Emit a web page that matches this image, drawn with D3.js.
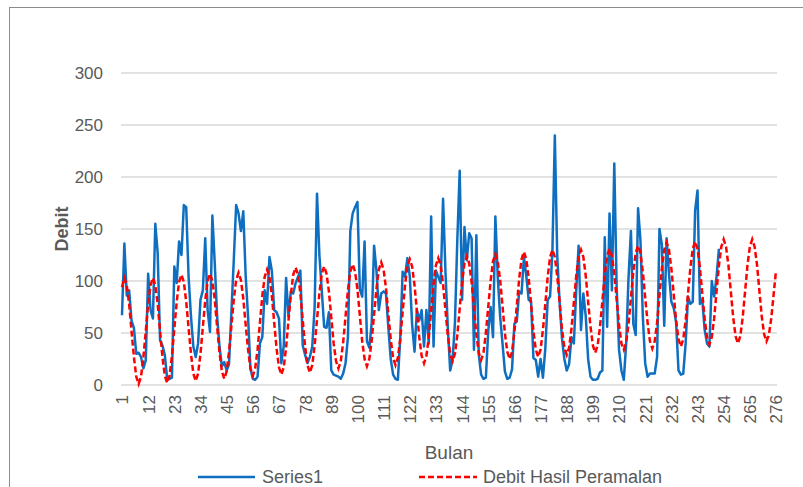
<!DOCTYPE html>
<html>
<head>
<meta charset="utf-8">
<script src="https://cdnjs.cloudflare.com/ajax/libs/d3/7.8.5/d3.min.js"></script>
<style>
  body { margin: 0; background: #fff; }
  text { font-family: "Liberation Sans", Arial, sans-serif; fill: #595959; }
</style>
</head>
<body>
<svg id="chart" width="803" height="487"></svg>
<script>
// observed discharge (Series1), monthly
var series1 = [
  67,136,86,91,62,55,30,31,27,16,24,107,
  72,64,155,127,43,38,29,6,6,7,114,98,
  138,125,173,171,104,66,37,27,40,82,91,141,
  72,51,163,117,66,37,18,22,14,20,70,120,
  173,165,148,167,105,66,16,6,5,8,40,46,
  91,78,123,110,72,70,64,21,37,103,66,90,
  88,98,104,110,38,29,21,27,37,75,184,125,
  91,56,55,70,14,10,9,8,6,11,21,46,
  148,165,171,176,92,85,138,42,36,60,134,110,
  72,88,90,88,55,25,10,6,5,45,109,104,
  122,105,58,32,72,62,72,37,72,40,162,37,
  110,104,98,179,110,55,14,24,60,140,206,82,
  152,120,146,141,34,144,30,10,6,7,52,75,
  46,162,104,66,40,13,6,7,15,59,61,90,
  88,123,105,82,80,26,24,8,25,7,35,82,
  85,130,240,125,80,45,25,14,20,46,40,91,
  134,53,88,66,25,8,5,5,6,12,14,142,
  56,165,91,213,94,34,14,5,40,104,148,59,
  48,170,139,66,21,8,11,11,11,27,150,135,
  57,141,107,80,74,60,14,10,11,40,85,78,
  80,168,187,78,82,53,40,37,100,85,104,131
];

// forecast (Debit Hasil Peramalan)
var forecast = [
  94,103,96,78,52,27,8,1,8,27,52,78,96,103,
  96,78,52,27,9,2,9,28,54,80,99,106,
  99,80,55,30,11,4,11,30,56,81,100,107,
  100,82,56,31,13,6,13,32,57,82,101,108,
  101,83,58,34,16,9,16,34,60,86,104,111,
  104,86,60,35,17,10,17,36,62,87,106,113,
  106,88,62,37,19,12,19,38,63,88,107,114,
  107,90,65,40,23,16,23,41,66,91,109,116,
  109,92,67,42,25,18,25,43,68,93,111,118,
  111,93,68,44,26,19,26,44,70,96,114,121,
  114,96,71,46,28,21,28,46,72,97,115,122,
  115,97,72,48,30,23,30,48,74,99,117,124,
  117,99,74,49,31,24,31,50,75,100,119,126,
  119,101,76,50,32,25,32,51,76,102,121,128,
  121,103,78,52,34,27,34,53,78,104,123,130,
  123,105,80,54,36,29,36,54,80,105,123,130,
  123,105,80,56,38,31,38,56,81,106,124,131,
  124,107,82,58,40,34,41,59,84,109,127,134,
  127,109,84,60,42,35,42,60,86,112,130,137,
  130,112,87,62,44,37,44,62,88,113,131,138,
  131,113,88,64,46,39,46,64,90,115,133,140,
  133,115,90,65,47,40,47,65,90,115,133,140,
  133,116,91,66,49,42,48,64,87,110
];

var xTicks = [1,12,23,34,45,56,67,78,89,100,111,122,133,144,155,166,177,188,199,210,221,232,243,254,265,276];
var yTicks = [0,50,100,150,200,250,300];

var svg = d3.select("#chart");

// chart frame
svg.append("rect")
  .attr("x", 9.5).attr("y", 7.5)
  .attr("width", 820).attr("height", 500)
  .attr("fill", "none")
  .attr("stroke", "#8c8c8c")
  .attr("stroke-width", 1);

var x = d3.scaleLinear().domain([1, 276]).range([122, 776]);
var y = d3.scaleLinear().domain([0, 300]).range([385, 73]);

// gridlines
svg.append("g")
  .selectAll("line")
  .data(yTicks)
  .enter().append("line")
  .attr("x1", 121).attr("x2", 777)
  .attr("y1", function(d) { return y(d); })
  .attr("y2", function(d) { return y(d); })
  .attr("stroke", "#d9d9d9")
  .attr("stroke-width", 1.5);

// y axis labels
var yAxis = svg.append("g")
  .attr("transform", "translate(112,0)")
  .call(d3.axisLeft(y).tickValues(yTicks).tickSize(0).tickPadding(9));
yAxis.select(".domain").remove();
yAxis.selectAll("text")
  .style("font-size", "17px")
  .style("font-family", "Liberation Sans, Arial, sans-serif")
  .attr("fill", "#595959");

// x axis labels, rotated
var xAxis = svg.append("g")
  .attr("transform", "translate(0,385)")
  .call(d3.axisBottom(x).tickValues(xTicks).tickSize(0).tickFormat(d3.format("d")));
xAxis.select(".domain").remove();
xAxis.selectAll("text")
  .style("font-size", "17px")
  .style("font-family", "Liberation Sans, Arial, sans-serif")
  .attr("fill", "#595959")
  .attr("text-anchor", "end")
  .attr("transform", "rotate(-90)")
  .attr("x", -10)
  .attr("y", 0)
  .attr("dy", "0.35em");

// series lines
var line = d3.line()
  .x(function(d, i) { return x(i + 1); })
  .y(function(d) { return y(d); });

svg.append("path")
  .datum(series1)
  .attr("fill", "none")
  .attr("stroke", "#0e6fc1")
  .attr("stroke-width", 2.5)
  .attr("stroke-linejoin", "round")
  .attr("d", line);

svg.append("path")
  .datum(forecast)
  .attr("fill", "none")
  .attr("stroke", "#ff0000")
  .attr("stroke-width", 2.5)
  .attr("stroke-dasharray", "6,3")
  .attr("d", line);

// axis titles
svg.append("text")
  .attr("transform", "translate(68,229) rotate(-90)")
  .attr("text-anchor", "middle")
  .style("font-size", "18px")
  .style("font-weight", "bold")
  .text("Debit");

svg.append("text")
  .attr("x", 449).attr("y", 459)
  .attr("text-anchor", "middle")
  .style("font-size", "19px")
  .text("Bulan");

// legend
svg.append("line")
  .attr("x1", 198).attr("x2", 255)
  .attr("y1", 477).attr("y2", 477)
  .attr("stroke", "#0e6fc1").attr("stroke-width", 2.5);
svg.append("text")
  .attr("x", 262).attr("y", 483)
  .style("font-size", "18px")
  .text("Series1");

svg.append("line")
  .attr("x1", 419).attr("x2", 477)
  .attr("y1", 477).attr("y2", 477)
  .attr("stroke", "#ff0000").attr("stroke-width", 2.5)
  .attr("stroke-dasharray", "6,3");
svg.append("text")
  .attr("x", 483).attr("y", 483)
  .style("font-size", "18px")
  .text("Debit Hasil Peramalan");
</script>
</body>
</html>
